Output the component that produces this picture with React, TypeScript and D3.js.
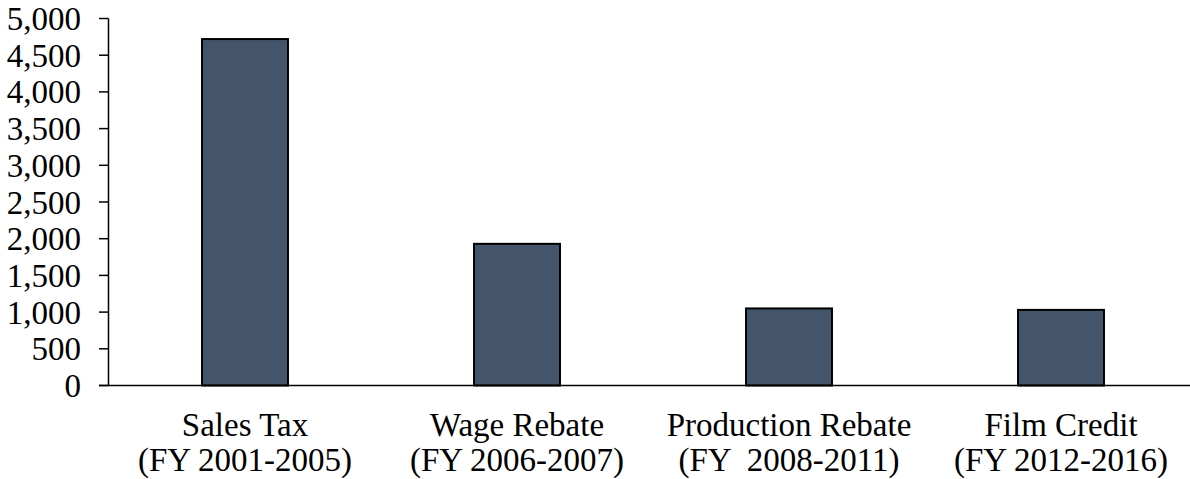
import React from "react";
import * as d3 from "d3";

const categories = ["Sales Tax|(FY 2001-2005)", "Wage Rebate|(FY 2006-2007)", "Production Rebate|(FY  2008-2011)", "Film Credit|(FY 2012-2016)"];
const values = [4720, 1930, 1050, 1030];
const yTicks = [0, 500, 1000, 1500, 2000, 2500, 3000, 3500, 4000, 4500, 5000];

const W = 1190;
const H = 479;
const FONT = "'Liberation Serif', 'Times New Roman', Times, serif";

export default function App() {
  const x = d3
    .scaleBand<string>()
    .domain(categories)
    .range([109, 1197])
    .paddingInner(0.684)
    .paddingOuter(0.342);
  const y = d3.scaleLinear().domain([0, 5000]).range([385.5, 18.5]);
  const fmt = d3.format(",");

  return (
    <svg width={W} height={H} style={{ position: "absolute", left: 0, top: 0, background: "#fff", fontFamily: FONT }}>
      {values.map((v, i) => (
        <rect
          key={i}
          x={x(categories[i])}
          y={y(v)}
          width={x.bandwidth()}
          height={y(0) - y(v)}
          fill="#44546A"
          stroke="#000"
          strokeWidth={2}
        />
      ))}
      <line x1={108.5} x2={108.5} y1={y(5000)} y2={y(0)} stroke="#000" strokeWidth={1.5} />
      <line x1={99} x2={1190} y1={y(0)} y2={y(0)} stroke="#000" strokeWidth={1.5} />
      {yTicks.map((t) => (
        <g key={t}>
          <line x1={99} x2={108.5} y1={y(t)} y2={y(t)} stroke="#000" strokeWidth={1.5} />
          <text
            x={81}
            y={y(t)}
            dy="0.35em"
            textAnchor="end"
            style={{ fontFamily: FONT }}
            fontSize={33}
            fill="#000"
          >
            {fmt(t)}
          </text>
        </g>
      ))}
      {categories.map((c) => {
        const [l1, l2] = c.split("|");
        const cx = (x(c) as number) + x.bandwidth() / 2;
        return (
          <text key={c} x={cx} textAnchor="middle" fontSize={33} fill="#000" style={{ whiteSpace: "pre", fontFamily: FONT }}>
            <tspan x={cx} y={436}>{l1}</tspan>
            <tspan x={cx} y={471}>{l2}</tspan>
          </text>
        );
      })}
    </svg>
  );
}
